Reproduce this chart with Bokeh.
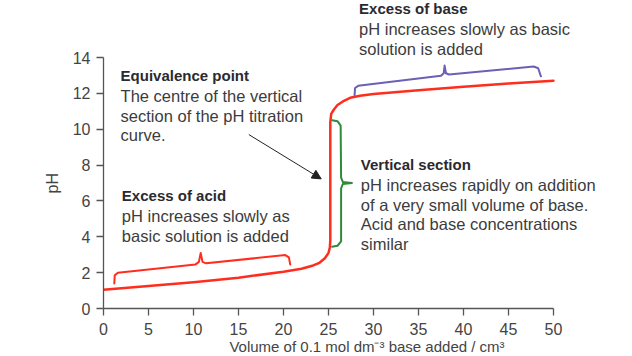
from bokeh.plotting import figure
from bokeh.models import Range1d, Label, Arrow, NormalHead, FixedTicker, Title
from bokeh.embed import file_html
from bokeh.resources import INLINE

# ---- data ----
volume = [0, 5, 10, 15, 20, 22, 23.3, 24.0, 24.6, 25.0, 25.15, 25.2, 25.2, 25.3, 25.6, 26.0, 26.6, 27.4, 28.5, 30, 35, 40, 45, 50]
ph = [1.05, 1.25, 1.47, 1.72, 2.05, 2.22, 2.4, 2.55, 2.8, 3.1, 3.4, 3.8, 10.4, 10.85, 11.1, 11.35, 11.55, 11.75, 11.87, 11.97, 12.17, 12.37, 12.55, 12.7]

x_ticks = [0, 5, 10, 15, 20, 25, 30, 35, 40, 45, 50]
y_ticks = [0, 2, 4, 6, 8, 10, 12, 14]

acid_brace_x = [1.2, 1.25, 1.6, 10.2, 10.6, 10.8, 11.0, 11.4, 20.2, 20.6, 20.75]
acid_brace_y = [1.4, 1.85, 2.0, 2.45, 2.6, 3.1, 2.6, 2.52, 2.98, 2.85, 2.45]

base_brace_x = [27.9, 27.95, 28.3, 37.5, 37.8, 37.9, 38.05, 38.4, 47.8, 48.3, 48.6]
base_brace_y = [11.9, 12.3, 12.42, 12.98, 13.12, 13.55, 13.12, 13.05, 13.5, 13.4, 12.95]

vert_brace_x = [25.4, 26.0, 26.35, 26.4, 26.6, 27.6, 26.6, 26.4, 26.4, 26.0, 25.4]
vert_brace_y = [10.5, 10.45, 10.2, 7.3, 7.05, 7.0, 6.95, 6.7, 3.75, 3.5, 3.45]

arrow_start = (16.15, 9.7)
arrow_end = (24.19, 7.23)

equiv_title = "Equivalence point"
equiv_lines = ["The centre of the vertical", "section of the pH titration", "curve."]
acid_title = "Excess of acid"
acid_lines = ["pH increases slowly as", "basic solution is added"]
base_title = "Excess of base"
base_lines = ["pH increases slowly as basic", "solution is added"]
vert_title = "Vertical section"
vert_lines = ["pH increases rapidly on addition", "of a very small volume of base.",
              "Acid and base concentrations", "similar"]

RED = "#ff2d1e"
PURPLE = "#6b60b4"
GREEN = "#2f8a3a"
AXIS = "#555555"
TEXT = "#3c3c3c"
BOLD = "#2a2a30"
FONT = "Liberation Sans"

# 9 px per mL and 251/14 px per pH unit; frame enlarged so the notes are not clipped
X_MAX = 527 / 9.0
Y_MAX = 308 / (251 / 14.0)

p = figure(frame_width=527, frame_height=308,
           x_range=Range1d(0, X_MAX), y_range=Range1d(0, Y_MAX),
           output_backend="svg", toolbar_location=None,
           min_border_left=103, min_border_top=0, min_border_right=0, min_border_bottom=48)
p.outline_line_color = None
p.xgrid.visible = False
p.ygrid.visible = False
p.background_fill_color = "white"

for ax in (p.xaxis[0], p.yaxis[0]):
    ax.axis_line_color = AXIS
    ax.axis_line_width = 1.3
    ax.major_tick_line_color = AXIS
    ax.major_tick_line_width = 1.3
    ax.major_tick_out = 7
    ax.major_tick_in = 0
    ax.minor_tick_line_color = None
    ax.major_label_text_font = FONT
    ax.major_label_text_font_size = "16px"
    ax.major_label_text_color = "#444444"
    ax.axis_label_text_font = FONT
    ax.axis_label_text_font_size = "15px"
    ax.axis_label_text_color = "#444444"
    ax.axis_label_text_font_style = "normal"

p.xaxis.ticker = FixedTicker(ticks=x_ticks)
p.yaxis.ticker = FixedTicker(ticks=y_ticks)
p.xaxis.bounds = (x_ticks[0], x_ticks[-1])
p.yaxis.bounds = (y_ticks[0], y_ticks[-1])
p.xaxis.major_label_standoff = 7
p.yaxis.major_label_standoff = 6
p.xaxis.axis_label = "Volume of 0.1 mol dm\u207b\u00b3 base added / cm\u00b3"
p.xaxis.axis_label_standoff = 0

# y-axis title, placed alongside the 0-14 span
p.add_layout(Title(text="pH", align="left", offset=115, text_font=FONT,
                   text_font_size="16px", text_font_style="normal",
                   text_color="#444444", standoff=18), "left")

# curve
p.line(volume, ph, line_color=RED, line_width=2.5, line_join="round", line_cap="round")

# braces
p.line(acid_brace_x, acid_brace_y, line_color=RED, line_width=2, line_join="round", line_cap="round")
p.line(base_brace_x, base_brace_y, line_color=PURPLE, line_width=2, line_join="round", line_cap="round")
p.line(vert_brace_x, vert_brace_y, line_color=GREEN, line_width=2, line_join="round", line_cap="round")

# arrow
p.add_layout(Arrow(end=NormalHead(size=9, fill_color="#222222", line_color="#222222", line_width=1),
                   x_start=arrow_start[0], y_start=arrow_start[1],
                   x_end=arrow_end[0], y_end=arrow_end[1],
                   line_color="#222222", line_width=1))

LINE_STEP = 1.1  # pH units between text lines


def add_block(x, y, title, lines):
    p.add_layout(Label(x=x, y=y, text=title, text_font=FONT, text_font_size="15px",
                       text_font_style="bold", text_color=BOLD, text_baseline="alphabetic"))
    for i, t in enumerate(lines):
        p.add_layout(Label(x=x, y=y - 1.14 - i * LINE_STEP, text=t, text_font=FONT,
                           text_font_size="16.5px", text_color=TEXT, text_baseline="alphabetic"))


add_block(1.90, 13.0, equiv_title, equiv_lines)
add_block(2.04, 6.31, acid_title, acid_lines)
add_block(28.40, 16.71, base_title, base_lines)
add_block(28.59, 8.03, vert_title, vert_lines)

open("out.html", "w").write(file_html(p, INLINE))
